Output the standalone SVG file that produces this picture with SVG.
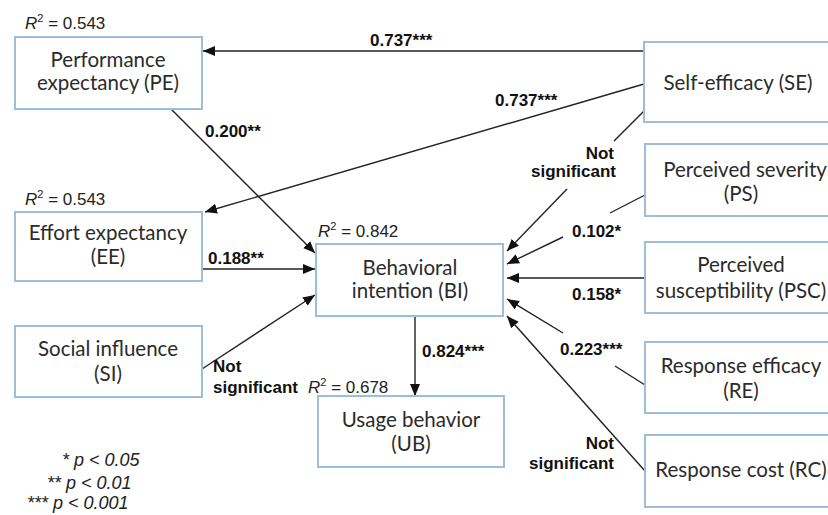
<svg xmlns="http://www.w3.org/2000/svg" width="828" height="515" viewBox="0 0 828 515">
<defs>
<marker id="ah" markerUnits="userSpaceOnUse" markerWidth="13" markerHeight="11" refX="12" refY="5" orient="auto">
<path d="M0,0 L12,5 L0,10 z" fill="#111"/>
</marker>
<style>
.box{fill:#fff;stroke:#9dbddb;stroke-width:2}
.nt{font-family:Lato,"Open Sans",sans-serif;font-size:20.5px;fill:#2b2b2b;text-anchor:middle}
.lb{font-family:"Liberation Sans",Arial,sans-serif;font-size:17px;font-weight:bold;fill:#111}
.r2{font-family:"Liberation Sans",Arial,sans-serif;font-size:17px;fill:#222}
.lg{font-family:"Liberation Sans",Arial,sans-serif;font-size:18px;font-style:italic;fill:#222}
.ln{stroke:#222;stroke-width:1.4;fill:none}
.ar{marker-end:url(#ah)}
</style>
</defs>
<rect width="828" height="515" fill="#fff"/>

<g id="connectors">
<line class="ln ar" x1="645" y1="51" x2="203" y2="51"/>
<line class="ln ar" x1="644" y1="84" x2="205" y2="212"/>
<line class="ln ar" x1="171" y1="109" x2="315" y2="253"/>
<line class="ln ar" x1="202" y1="269" x2="315" y2="269"/>
<line class="ln ar" x1="202" y1="369" x2="315" y2="295"/>
<line class="ln" x1="644" y1="111" x2="614" y2="141"/>
<line class="ln ar" x1="567" y1="189" x2="507" y2="251"/>
<line class="ln" x1="645" y1="195" x2="610" y2="213"/>
<line class="ln ar" x1="563" y1="237" x2="507" y2="264"/>
<line class="ln ar" x1="645" y1="278" x2="507" y2="278"/>
<line class="ln" x1="645" y1="385" x2="615" y2="366"/>
<line class="ln ar" x1="563" y1="333" x2="507" y2="299"/>
<line class="ln ar" x1="645" y1="471" x2="507" y2="316"/>
<line class="ln ar" x1="415" y1="317" x2="415" y2="396"/>
</g>

<g id="labels">
<text class="lb" x="370" y="46">0.737***</text>
<text class="lb" x="495" y="106">0.737***</text>
<text class="lb" x="205" y="137">0.200**</text>
<text class="lb" x="208" y="264">0.188**</text>
<text class="lb" x="422" y="357">0.824***</text>
<text class="lb" x="572" y="237">0.102*</text>
<text class="lb" x="572" y="300">0.158*</text>
<text class="lb" x="560" y="355">0.223***</text>
<text class="lb" text-anchor="end" x="614" y="159">Not</text>
<text class="lb" text-anchor="end" x="616" y="177">significant</text>
<text class="lb" x="213" y="372">Not</text>
<text class="lb" x="213" y="393">significant</text>
<text class="lb" text-anchor="end" x="614" y="449">Not</text>
<text class="lb" text-anchor="end" x="614" y="469">significant</text>
<text class="r2" x="25" y="29"><tspan font-style="italic">R</tspan><tspan font-size="11" dy="-7">2</tspan><tspan dy="7"> = 0.543</tspan></text>
<text class="r2" x="25" y="205"><tspan font-style="italic">R</tspan><tspan font-size="11" dy="-7">2</tspan><tspan dy="7"> = 0.543</tspan></text>
<text class="r2" x="318" y="237"><tspan font-style="italic">R</tspan><tspan font-size="11" dy="-7">2</tspan><tspan dy="7"> = 0.842</tspan></text>
<text class="r2" x="308" y="393"><tspan font-style="italic">R</tspan><tspan font-size="11" dy="-7">2</tspan><tspan dy="7"> = 0.678</tspan></text>
<text class="lg" x="62" y="466">* p &lt; 0.05</text>
<text class="lg" x="47" y="489">** p &lt; 0.01</text>
<text class="lg" x="27" y="509">*** p &lt; 0.001</text>
</g>

<g id="PE"><rect class="box" x="15" y="37" width="187" height="72"/>
<text class="nt" x="108" y="67">Performance</text><text class="nt" x="108" y="90">expectancy (PE)</text></g>
<g id="EE"><rect class="box" x="15" y="212" width="187" height="69"/>
<text class="nt" x="108" y="240">Effort expectancy</text><text class="nt" x="108" y="264">(EE)</text></g>
<g id="SI"><rect class="box" x="15" y="326" width="187" height="71"/>
<text class="nt" x="108" y="356">Social influence</text><text class="nt" x="108" y="381">(SI)</text></g>
<g id="BI"><rect class="box" x="316" y="244" width="187" height="72"/>
<text class="nt" x="410" y="275">Behavioral</text><text class="nt" x="410" y="298">intention (BI)</text></g>
<g id="UB"><rect class="box" x="318" y="396" width="186" height="71"/>
<text class="nt" x="411" y="427">Usage behavior</text><text class="nt" x="411" y="451">(UB)</text></g>
<g id="SE"><rect class="box" x="644" y="42" width="190" height="80"/>
<text class="nt" x="738" y="90">Self-efficacy (SE)</text></g>
<g id="PS"><rect class="box" x="645" y="144" width="190" height="72"/>
<text class="nt" x="745" y="177">Perceived severity</text><text class="nt" x="741" y="201">(PS)</text></g>
<g id="PSC"><rect class="box" x="645" y="242" width="190" height="71"/>
<text class="nt" x="741" y="272">Perceived</text><text class="nt" x="741" y="298">susceptibility (PSC)</text></g>
<g id="RE"><rect class="box" x="645" y="342" width="190" height="71"/>
<text class="nt" x="741" y="373">Response efficacy</text><text class="nt" x="741" y="398">(RE)</text></g>
<g id="RC"><rect class="box" x="645" y="435" width="190" height="72"/>
<text class="nt" x="741" y="477">Response cost (RC)</text></g>
</svg>
